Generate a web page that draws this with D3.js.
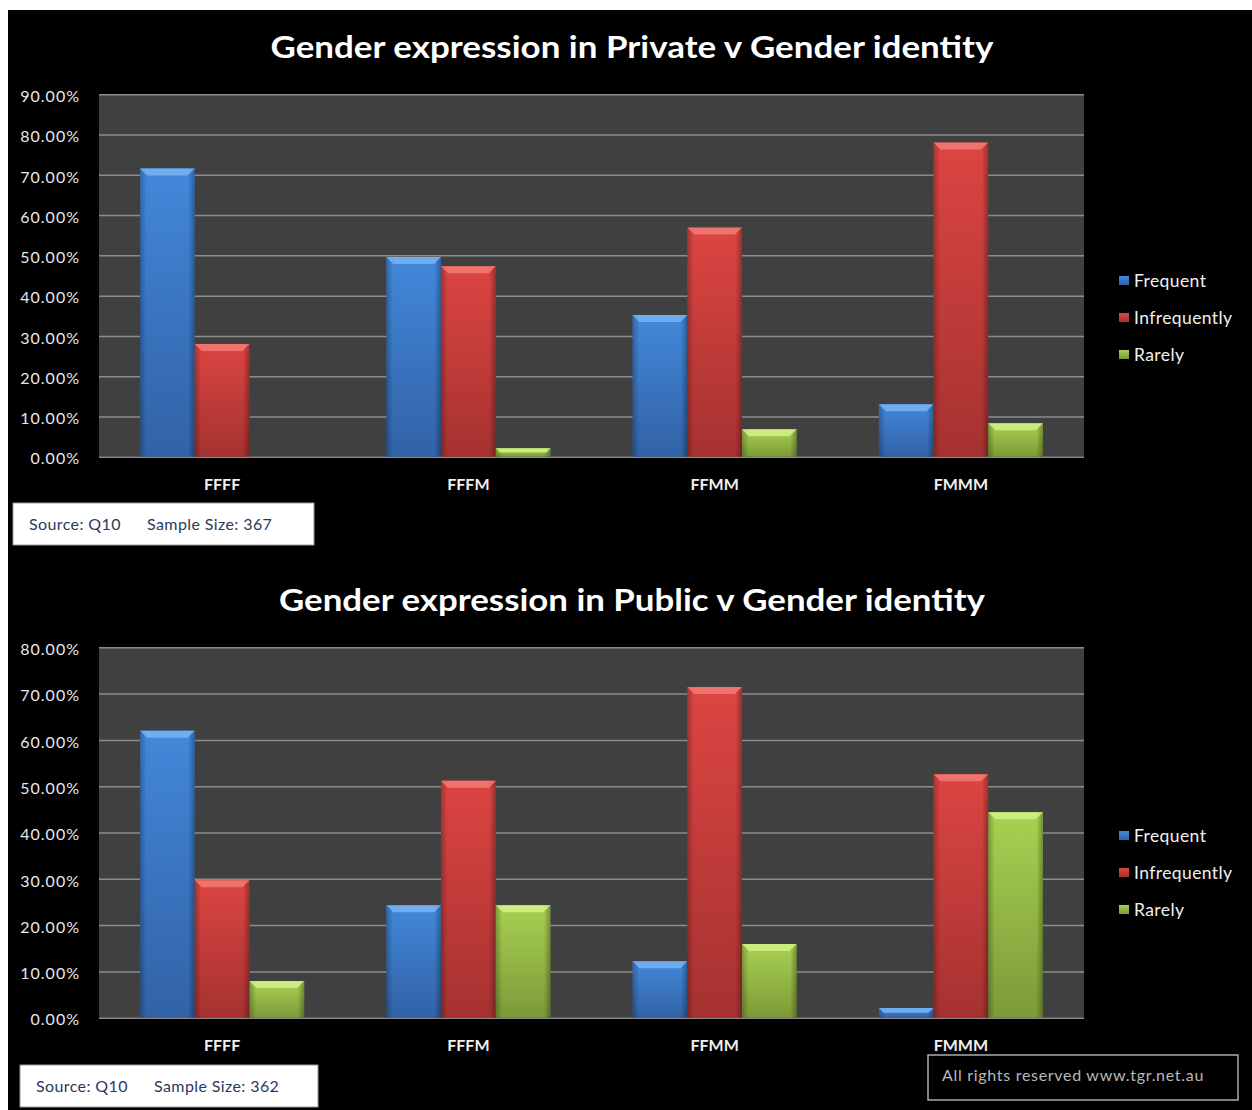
<!DOCTYPE html>
<html>
<head>
<meta charset="utf-8">
<script src="https://cdn.jsdelivr.net/npm/d3@7/dist/d3.min.js"></script>
<style>
  body { margin: 0; background: #fff; }
  svg { display: block; }
  text { font-family: Lato, "Open Sans", sans-serif; }
</style>
</head>
<body>
<div id="chart"></div>
<script>
// data (percent)
const categories = ["FFFF", "FFFM", "FFMM", "FMMM"];
const seriesNames = ["Frequent", "Infrequently", "Rarely"];

const privateFrequent = [71.6, 49.6, 35.2, 13.0];
const privateInfrequently = [28.0, 47.3, 56.9, 78.0];
const privateRarely = [0, 2.1, 6.8, 8.3];
const privateTicks = [0, 10, 20, 30, 40, 50, 60, 70, 80, 90];

const publicFrequent = [62.0, 24.3, 12.2, 2.1];
const publicInfrequently = [29.7, 51.2, 71.4, 52.6];
const publicRarely = [7.9, 24.3, 15.9, 44.4];
const publicTicks = [0, 10, 20, 30, 40, 50, 60, 70, 80];

// colours per series: [top, bottom, bevel]
const seriesColors = [
  ["#4288da", "#3262a6", "#78b4f4"],
  ["#dc4542", "#a53230", "#f37a76"],
  ["#a8d152", "#7c9a38", "#d2f285"]
];

const W = 1252, H = 1110;

const svg = d3.select("#chart")
  .append("svg")
  .attr("width", W)
  .attr("height", H);

svg.append("rect")
  .attr("x", 8).attr("y", 10)
  .attr("width", W - 8).attr("height", H - 10)
  .attr("fill", "#000");

// gradients
const defs = svg.append("defs");
seriesColors.forEach((c, i) => {
  const g = defs.append("linearGradient")
    .attr("id", "grad" + i)
    .attr("x1", 0).attr("y1", 0).attr("x2", 0).attr("y2", 1);
  g.append("stop").attr("offset", "0%").attr("stop-color", c[0]);
  g.append("stop").attr("offset", "100%").attr("stop-color", c[1]);
});
const side = defs.append("linearGradient")
  .attr("id", "sideShade")
  .attr("x1", 0).attr("y1", 0).attr("x2", 1).attr("y2", 0);
side.append("stop").attr("offset", "0%").attr("stop-color", "#000").attr("stop-opacity", 0.25);
side.append("stop").attr("offset", "12%").attr("stop-color", "#000").attr("stop-opacity", 0);
side.append("stop").attr("offset", "88%").attr("stop-color", "#000").attr("stop-opacity", 0);
side.append("stop").attr("offset", "100%").attr("stop-color", "#000").attr("stop-opacity", 0.3);

const fmt = d => d.toFixed(2) + "%";

const drawChart = cfg => {
  const g = svg.append("g");

  // title
  g.append("text")
    .attr("x", 632)
    .attr("y", cfg.titleY)
    .attr("text-anchor", "middle")
    .attr("fill", "#fff")
    .attr("font-weight", "bold")
    .attr("font-size", 31)
    .attr("textLength", cfg.titleW)
    .attr("lengthAdjust", "spacingAndGlyphs")
    .text(cfg.title);

  const x = d3.scaleBand()
    .domain(categories)
    .range([99, 1084])
    .paddingInner(1 / 3)
    .paddingOuter(1 / 6);

  const xs = d3.scaleBand()
    .domain(seriesNames)
    .range([0, x.bandwidth()]);

  const y = d3.scaleLinear()
    .domain([0, d3.max(cfg.ticks)])
    .range([cfg.bottom, cfg.top]);

  // plot background
  g.append("rect")
    .attr("x", 99).attr("y", cfg.top)
    .attr("width", 1084 - 99).attr("height", cfg.bottom - cfg.top)
    .attr("fill", "#404040");

  // gridlines + y labels
  const yAxis = d3.axisLeft(y)
    .tickValues(cfg.ticks)
    .tickSize(-(1084 - 99))
    .tickPadding(19)
    .tickFormat(fmt);

  const ya = g.append("g")
    .attr("transform", "translate(99,0)")
    .call(yAxis);
  ya.select(".domain").remove();
  ya.selectAll(".tick line")
    .attr("stroke", "#8c8c8c")
    .attr("stroke-width", 1.5);
  ya.selectAll(".tick text")
    .attr("fill", "#e8e8e8")
    .attr("font-size", 16)
    .attr("letter-spacing", 1)
    .attr("dy", "0.45em");

  // bars
  const rows = categories.map((c, i) => ({
    cat: c,
    vals: cfg.series.map((s, j) => ({ name: seriesNames[j], idx: j, v: s[i] }))
  }));

  const groups = g.selectAll("g.cat")
    .data(rows)
    .enter()
    .append("g")
    .attr("class", "cat")
    .attr("transform", d => `translate(${x(d.cat)},0)`);

  const bars = groups.selectAll("g.bar")
    .data(d => d.vals.filter(v => v.v > 0))
    .enter()
    .append("g")
    .attr("class", "bar");

  bars.append("rect")
    .attr("x", d => xs(d.name))
    .attr("y", d => y(d.v))
    .attr("width", xs.bandwidth())
    .attr("height", d => y(0) - y(d.v))
    .attr("fill", d => `url(#grad${d.idx})`);

  bars.append("rect")
    .attr("x", d => xs(d.name))
    .attr("y", d => y(d.v))
    .attr("width", xs.bandwidth())
    .attr("height", d => y(0) - y(d.v))
    .attr("fill", "url(#sideShade)");

  bars.append("polygon")
    .attr("points", d => {
      const x0 = xs(d.name), x1 = x0 + xs.bandwidth(), y0 = y(d.v);
      const b = Math.min(7, (y(0) - y0) / 2);
      return [[x0, y0], [x1, y0], [x1 - b, y0 + b], [x0 + b, y0 + b]].map(p => p.join(",")).join(" ");
    })
    .attr("fill", d => seriesColors[d.idx][2])
    .attr("opacity", 0.85);

  // x labels
  g.selectAll("text.xlab")
    .data(categories)
    .enter()
    .append("text")
    .attr("class", "xlab")
    .attr("x", d => x(d) + x.bandwidth() / 2)
    .attr("y", cfg.xLabelY)
    .attr("text-anchor", "middle")
    .attr("fill", "#f0f0f0")
    .attr("font-size", 16)
    .attr("font-weight", "bold")
    .text(d => d);

  // legend
  const leg = g.selectAll("g.leg")
    .data(seriesNames)
    .enter()
    .append("g")
    .attr("class", "leg")
    .attr("transform", (d, i) => `translate(1119,${cfg.legendY + i * 37})`);
  leg.append("rect")
    .attr("x", 0).attr("y", -5)
    .attr("width", 10).attr("height", 9)
    .attr("fill", (d, i) => `url(#grad${i})`);
  leg.append("text")
    .attr("x", 15)
    .attr("y", 0)
    .attr("dy", "0.35em")
    .attr("fill", "#f0f0f0")
    .attr("font-size", 17.5)
    .attr("letter-spacing", 0.4)
    .text(d => d);

  // source box
  const sb = cfg.source;
  g.append("rect")
    .attr("x", sb.x).attr("y", sb.y)
    .attr("width", sb.w).attr("height", sb.h)
    .attr("fill", "#fff")
    .attr("stroke", "#999");
  g.append("text")
    .attr("x", sb.x + 16)
    .attr("y", sb.y + sb.h / 2)
    .attr("dy", "0.35em")
    .attr("fill", "#2b3a5c")
    .attr("font-size", 16)
    .attr("letter-spacing", 0.4)
    .text("Source: Q10");
  g.append("text")
    .attr("x", sb.x + 134)
    .attr("y", sb.y + sb.h / 2)
    .attr("dy", "0.35em")
    .attr("fill", "#2b3a5c")
    .attr("font-size", 16)
    .attr("letter-spacing", 0.4)
    .text("Sample Size: " + cfg.sample);
};

drawChart({
  title: "Gender expression in Private v Gender identity",
  titleY: 58, titleW: 723,
  top: 94.3, bottom: 456.7,
  ticks: privateTicks,
  series: [privateFrequent, privateInfrequently, privateRarely],
  xLabelY: 490,
  legendY: 281,
  source: { x: 13, y: 503, w: 301, h: 42 },
  sample: 367
});

drawChart({
  title: "Gender expression in Public v Gender identity",
  titleY: 611, titleW: 706,
  top: 647.3, bottom: 1017.7,
  ticks: publicTicks,
  series: [publicFrequent, publicInfrequently, publicRarely],
  xLabelY: 1051,
  legendY: 836,
  source: { x: 20, y: 1065, w: 298, h: 42 },
  sample: 362
});

// credit box
svg.append("rect")
  .attr("x", 928).attr("y", 1055)
  .attr("width", 310).attr("height", 45)
  .attr("fill", "#000")
  .attr("stroke", "#aaa")
  .attr("stroke-width", 1.5);
svg.append("text")
  .attr("x", 942)
  .attr("y", 1075)
  .attr("dy", "0.35em")
  .attr("fill", "#b8b8b8")
  .attr("font-size", 16)
  .attr("letter-spacing", 0.7)
  .text("All rights reserved  www.tgr.net.au");
</script>
</body>
</html>
